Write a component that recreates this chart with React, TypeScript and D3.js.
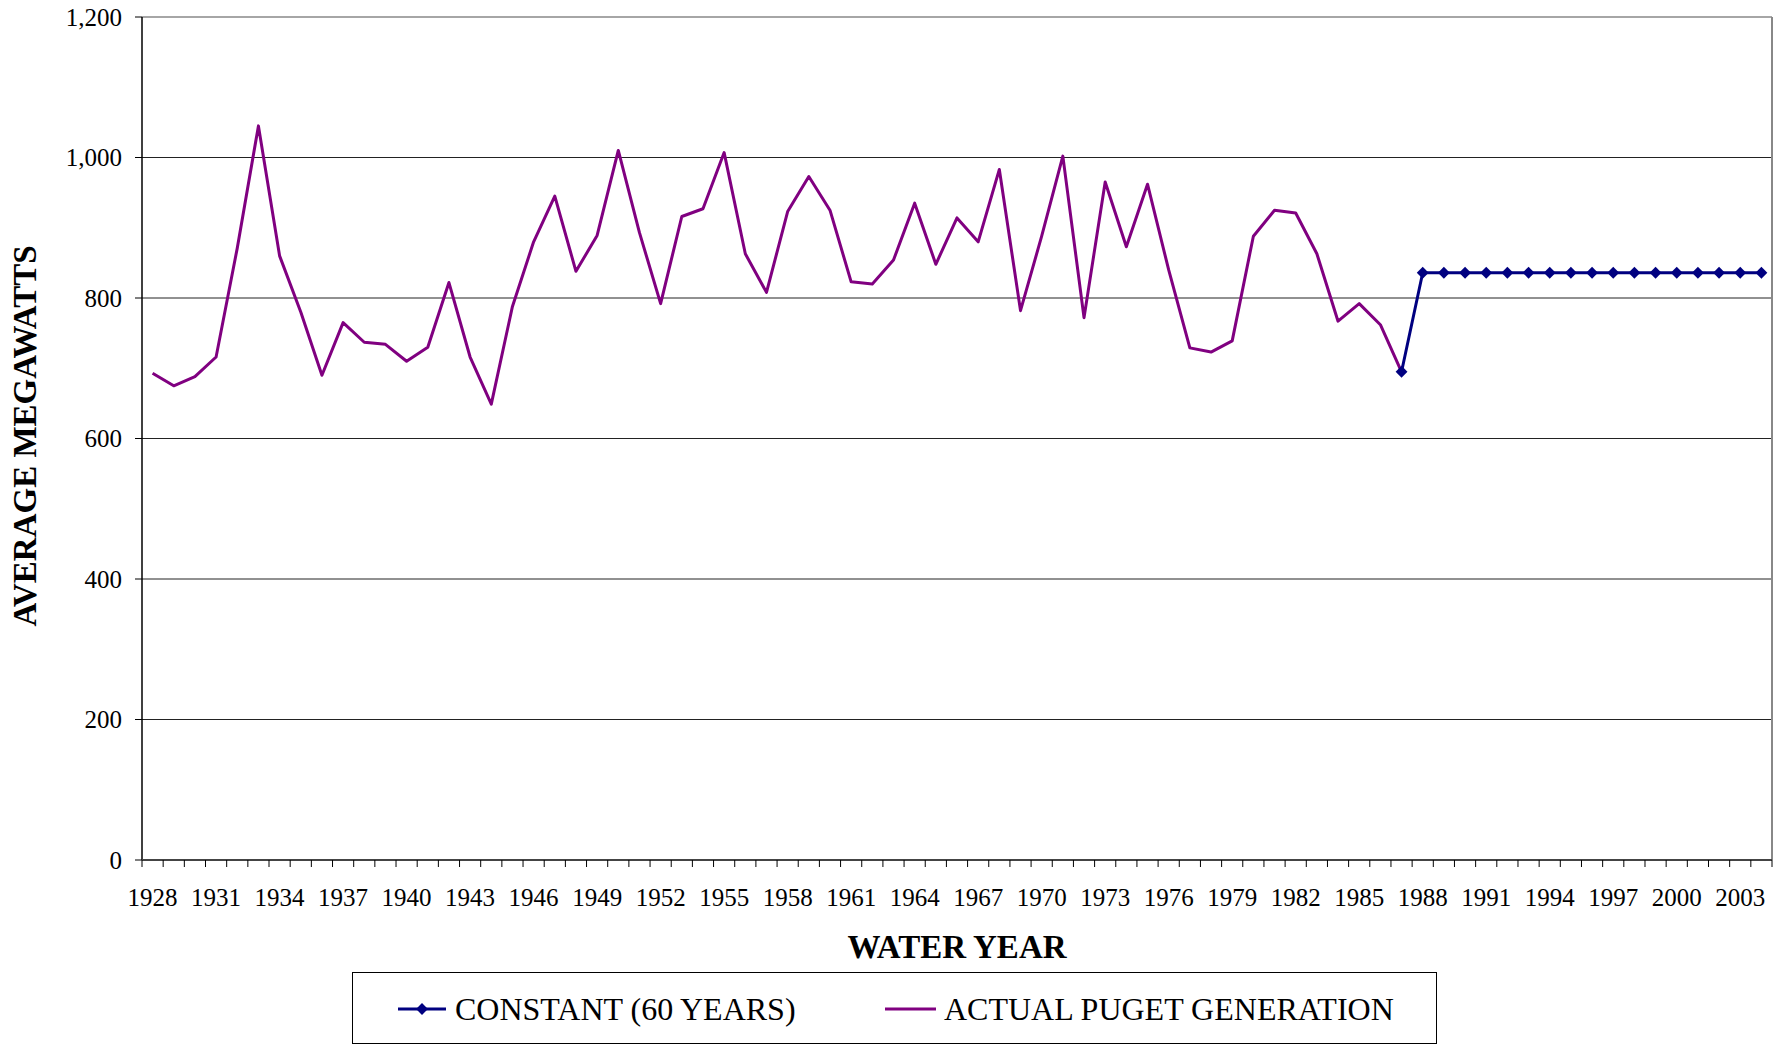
import * as d3 from "d3";

// water years on the x axis
const years = d3.range(1928, 2005);
const tickYears = years.filter((y) => (y - 1928) % 3 === 0);
const yTicks = [0, 200, 400, 600, 800, 1000, 1200];

// ACTUAL PUGET GENERATION, 1928-1987
const actualYears = d3.range(1928, 1988);
const actualValues = [
  693, 675, 688, 716, 871, 1045, 860, 780, 690, 765,
  737, 734, 710, 730, 822, 716, 649, 788, 880, 945,
  838, 889, 1010, 893, 792, 916, 927, 1007, 863, 808,
  923, 973, 925, 823, 820, 854, 935, 848, 914, 880,
  983, 782, 888, 1002, 772, 965, 873, 962, 840, 729,
  723, 739, 888, 925, 921, 863, 767, 792, 762, 695,
];

// CONSTANT (60 YEARS), 1987-2004
const constantYears = d3.range(1987, 2005);
const constantValues = [
  695, 836, 836, 836, 836, 836, 836, 836, 836, 836,
  836, 836, 836, 836, 836, 836, 836, 836,
];

const W = 1783;
const H = 1048;
const left = 142;
const right = 1772;
const top = 17;
const bottom = 860;
const font = "'Liberation Serif', 'Times New Roman', serif";

const PURPLE = "#800080";
const NAVY = "#000080";

export default function App() {
  const x = d3.scaleBand<number>().domain(years).range([left, right]).padding(0);
  const y = d3.scaleLinear().domain([0, 1200]).range([bottom, top]);
  const cx = (yr: number) => (x(yr) as number) + x.bandwidth() / 2;

  const actual = d3
    .line<number>()
    .x((_, i) => cx(actualYears[i]))
    .y((d) => y(d))(actualValues) as string;

  const constant = d3
    .line<number>()
    .x((_, i) => cx(constantYears[i]))
    .y((d) => y(d))(constantValues) as string;

  const diamond = d3.symbol(d3.symbolSquare, 70)() as string;
  const fmt = d3.format(",");

  return (
    <svg
      width={W}
      height={H}
      style={{ position: "absolute", left: 0, top: 0, display: "block", background: "#fff" }}
      fontFamily={font}
    >
      {/* gridlines */}
      {yTicks.slice(1, -1).map((t) => (
        <line key={t} x1={left} x2={right} y1={y(t)} y2={y(t)} stroke="#222" strokeWidth={1} />
      ))}
      {/* plot border */}
      <line x1={left} x2={right} y1={top} y2={top} stroke="#888" strokeWidth={1.5} />
      <line x1={right} x2={right} y1={top} y2={bottom} stroke="#888" strokeWidth={2} />

      {/* y axis */}
      <line x1={left} x2={left} y1={top} y2={bottom} stroke="#000" strokeWidth={1.5} />
      {yTicks.map((t) => (
        <g key={t}>
          <line x1={left - 7} x2={left} y1={y(t)} y2={y(t)} stroke="#000" strokeWidth={1} />
          <text x={122} y={y(t)} dy="0.35em" textAnchor="end" fontSize={25}>
            {fmt(t)}
          </text>
        </g>
      ))}

      {/* x axis */}
      <line x1={left} x2={right} y1={bottom} y2={bottom} stroke="#444" strokeWidth={2} />
      {years.map((yr) => (
        <line key={yr} x1={x(yr)} x2={x(yr)} y1={bottom} y2={bottom + 7} stroke="#000" strokeWidth={1} />
      ))}
      <line x1={right} x2={right} y1={bottom} y2={bottom + 7} stroke="#000" strokeWidth={1} />
      {tickYears.map((yr) => (
        <text key={yr} x={cx(yr)} y={906} textAnchor="middle" fontSize={25}>
          {yr}
        </text>
      ))}

      {/* series */}
      <path d={actual} fill="none" stroke={PURPLE} strokeWidth={3} strokeLinejoin="round" />
      <path d={constant} fill="none" stroke={NAVY} strokeWidth={3} strokeLinejoin="round" />
      {constantValues.map((v, i) => (
        <path
          key={i}
          d={diamond}
          transform={`translate(${cx(constantYears[i])},${y(v)}) rotate(45)`}
          fill={NAVY}
        />
      ))}

      {/* axis titles */}
      <text x={957} y={958} textAnchor="middle" fontSize={33} fontWeight="bold">
        WATER YEAR
      </text>
      <text
        transform="translate(36,436) rotate(-90)"
        textAnchor="middle"
        fontSize={33}
        fontWeight="bold"
      >
        AVERAGE MEGAWATTS
      </text>

      {/* legend */}
      <rect x={352.5} y={972.5} width={1084} height={71} fill="#fff" stroke="#000" strokeWidth={1} />
      <line x1={398} x2={446} y1={1009} y2={1009} stroke={NAVY} strokeWidth={3} />
      <path d={diamond} transform="translate(422,1009) rotate(45)" fill={NAVY} />
      <text x={455} y={1020} fontSize={32}>
        CONSTANT (60 YEARS)
      </text>
      <line x1={885} x2={936} y1={1009} y2={1009} stroke={PURPLE} strokeWidth={3} />
      <text x={944} y={1020} fontSize={32}>
        ACTUAL PUGET GENERATION
      </text>
    </svg>
  );
}
